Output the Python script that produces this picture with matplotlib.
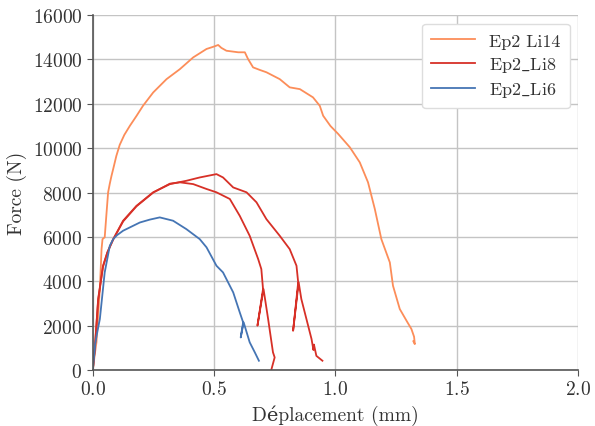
import numpy as np
import matplotlib
matplotlib.use("Agg")
import matplotlib.pyplot as plt

plt.rcParams['font.family'] = ['cmr10', 'DejaVu Serif']
plt.rcParams['mathtext.fontset'] = 'cm'
plt.rcParams['axes.formatter.use_mathtext'] = True

# Ep2 Li14
li14_x = [0.0, 0.008, 0.015, 0.022, 0.029, 0.036, 0.040, 0.045, 0.049, 0.056, 0.063,
          0.070, 0.077, 0.084, 0.097, 0.111, 0.130, 0.153, 0.180, 0.207, 0.249, 0.304,
          0.359, 0.414, 0.469, 0.50, 0.517, 0.530, 0.551, 0.60, 0.627, 0.64, 0.661,
          0.690, 0.716, 0.771, 0.812, 0.854, 0.908, 0.936, 0.950, 0.980, 1.012, 1.06,
          1.101, 1.135, 1.163, 1.19, 1.225, 1.238, 1.266, 1.294, 1.314, 1.325, 1.328,
          1.322]
li14_y = [0, 700, 1250, 2500, 3650, 5450, 5900, 5950, 5980, 7000, 8000,
          8400, 8750, 9060, 9650, 10150, 10600, 11010, 11450, 11910, 12510, 13110,
          13560, 14090, 14470, 14580, 14650, 14520, 14390, 14320, 14320, 14020, 13640,
          13520, 13420, 13110, 12740, 12660, 12290, 11910, 11460, 11000, 10640, 10040,
          9360, 8460, 7260, 5900, 4850, 3800, 2750, 2220, 1850, 1500, 1170,
          1300]

# Ep2 Li8 (two specimens)
li8a_x = [0.0, 0.008, 0.022, 0.042, 0.06, 0.084, 0.125, 0.18, 0.249, 0.318, 0.386,
          0.441, 0.51, 0.537, 0.579, 0.634, 0.675, 0.716, 0.771, 0.812, 0.84,
          0.847, 0.826, 0.849, 0.86, 0.881, 0.902, 0.91, 0.912, 0.922, 0.947]
li8a_y = [0, 950, 3200, 4700, 5300, 5900, 6730, 7400, 8010, 8380, 8530,
          8680, 8830, 8680, 8230, 8010, 7560, 6800, 6050, 5450, 4700,
          3950, 1770, 3950, 3200, 2300, 1400, 900, 1150, 640, 420]
li8b_x = [0.0, 0.008, 0.022, 0.042, 0.06, 0.084, 0.125, 0.18, 0.249, 0.318, 0.359,
          0.414, 0.469, 0.51, 0.565, 0.606, 0.647, 0.682, 0.695, 0.702,
          0.679, 0.704, 0.723, 0.743, 0.75, 0.737]
li8b_y = [0, 900, 3150, 4650, 5300, 5880, 6700, 7380, 8000, 8400, 8460,
          8380, 8160, 8010, 7710, 6950, 6050, 5000, 4550, 3650,
          2000, 3650, 2300, 800, 570, 45]

# Ep2 Li6
li6_x = [0.0, 0.01, 0.02, 0.029, 0.049, 0.07, 0.084, 0.100, 0.125, 0.194, 0.235,
         0.276, 0.331, 0.386, 0.441, 0.469, 0.51, 0.537, 0.579, 0.606, 0.62, 0.61,
         0.622, 0.647, 0.668, 0.685]
li6_y = [0, 1200, 1800, 2300, 4400, 5600, 5900, 6080, 6280, 6650, 6780,
         6880, 6730, 6350, 5900, 5530, 4700, 4400, 3500, 2600, 2150, 1470,
         2150, 1250, 800, 420]

fig = plt.figure(figsize=(5.95, 4.27), dpi=100)
ax = fig.add_axes([0.156, 0.131, 0.815, 0.8315])

ax.plot(li14_x, li14_y, color='#fc8d59', lw=1.3, label='Ep2 Li14')
ax.plot(li8a_x, li8a_y, color='#d73027', lw=1.3, label=r'Ep2$\_$Li8')
ax.plot(li8b_x, li8b_y, color='#d73027', lw=1.3)
ax.plot(li6_x, li6_y, color='#4575b4', lw=1.3, label=r'Ep2$\_$Li6')

ax.set_xlim(0, 2.0)
ax.set_ylim(0, 16000)
ax.set_xticks(np.arange(0, 2.01, 0.5))
ax.set_yticks(np.arange(0, 16001, 2000))
ax.grid(True, color='#c4c4c4', lw=1.0)
ax.set_axisbelow(True)
for s in ['top', 'right']:
    ax.spines[s].set_visible(False)
for s in ['left', 'bottom']:
    ax.spines[s].set_color('#555555')
    ax.spines[s].set_linewidth(1.2)
ax.tick_params(labelsize=14, colors='#333333', length=4, color='#555555')
ax.set_xlabel('Déplacement (mm)', fontsize=14, color='#333333')
ax.set_ylabel('Force (N)', fontsize=14, color='#333333')

leg = ax.legend(loc='upper right', fontsize=13, handlelength=2.4, borderpad=0.5,
                labelspacing=0.35, fancybox=True, framealpha=1.0, edgecolor='#dddddd',
                bbox_to_anchor=(0.983, 0.975), borderaxespad=0)
for t in leg.get_texts():
    t.set_color('#333333')

plt.savefig('out.png', dpi=100)
